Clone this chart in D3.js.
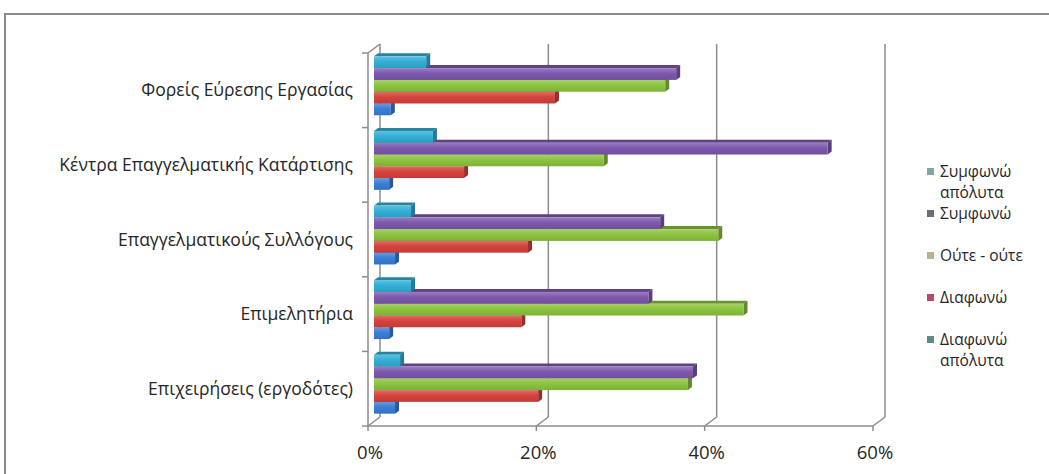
<!DOCTYPE html>
<html>
<head>
<meta charset="utf-8">
<script src="https://cdn.jsdelivr.net/npm/d3@7"></script>
<style>
  html, body { margin: 0; padding: 0; background: #ffffff; }
  svg { display: block; }
  text { font-family: "Open Sans", "Noto Sans", sans-serif; fill: #262626; }
</style>
</head>
<body>
<svg id="chart" width="1049" height="474"></svg>
<script>
// Categories (top to bottom) and series (top bar to bottom bar within each group)
const categories = [
  "Φορείς Εύρεσης Εργασίας",
  "Κέντρα Επαγγελματικής Κατάρτισης",
  "Επαγγελματικούς Συλλόγους",
  "Επιμελητήρια",
  "Επιχειρήσεις (εργοδότες)"
];
const seriesNames = ["Συμφωνώ απόλυτα", "Συμφωνώ", "Ούτε - ούτε", "Διαφωνώ", "Διαφωνώ απόλυτα"];

// Percentages per category, one array per series
const agreeStrongly    = [6.2, 7.0, 4.4, 4.4, 3.1];
const agree            = [35.9, 53.9, 34.0, 32.6, 37.9];
const neutral          = [34.6, 27.3, 40.9, 43.9, 37.3];
const disagree         = [21.5, 10.7, 18.3, 17.5, 19.5];
const disagreeStrongly = [2.0, 1.8, 2.5, 1.8, 2.5];

const xTicks = [0, 20, 40, 60];

const seriesColors = ["#33afd6", "#7d58ae", "#8cc43f", "#d6433d", "#3a7fd6"];
const legendSwatches = ["#7fa6a2", "#6e6e78", "#b4b493", "#b24a6e", "#5d8a84"];

const seriesValues = [agreeStrongly, agree, neutral, disagree, disagreeStrongly];

const svg = d3.select("#chart");

// Chart frame
svg.append("rect")
  .attr("x", 5).attr("y", 14).attr("width", 1100).attr("height", 520)
  .attr("fill", "#ffffff").attr("stroke", "#8a8a8a").attr("stroke-width", 2);

// Plot geometry: front plane and depth offset to the back wall
const plot = { left: 368, right: 873, top: 53, bottom: 426 };
const depth = { dx: 12, dy: -9 };

const x = d3.scaleLinear().domain([0, 60]).range([plot.left, plot.right]);
const y0 = d3.scaleBand().domain(categories).range([plot.top, plot.bottom]);
const bw = y0.bandwidth();
const y1 = d3.scaleBand().domain(seriesNames).range([bw * 0.105, bw * 0.895]);

const gridColor = "#8c8c8c";

// Back wall gridlines
const back = svg.append("g");
back.selectAll("line.grid")
  .data(xTicks)
  .join("line")
  .attr("x1", d => x(d) + depth.dx).attr("x2", d => x(d) + depth.dx)
  .attr("y1", plot.top + depth.dy).attr("y2", plot.bottom + depth.dy)
  .attr("stroke", gridColor).attr("stroke-width", 1.5);

// Floor edges joining front ticks to the back wall
back.selectAll("line.floor")
  .data(xTicks)
  .join("line")
  .attr("x1", d => x(d)).attr("y1", plot.bottom)
  .attr("x2", d => x(d) + depth.dx).attr("y2", plot.bottom + depth.dy)
  .attr("stroke", gridColor).attr("stroke-width", 1.5);

// Top edge of the side wall
back.append("line")
  .attr("x1", plot.left).attr("y1", plot.top)
  .attr("x2", plot.left + depth.dx).attr("y2", plot.top + depth.dy)
  .attr("stroke", gridColor).attr("stroke-width", 1.5);

// Gradients for bar faces
const defs = svg.append("defs");
seriesColors.forEach((c, j) => {
  const g = defs.append("linearGradient")
    .attr("id", "grad" + j).attr("x1", 0).attr("y1", 0).attr("x2", 0).attr("y2", 1);
  g.append("stop").attr("offset", "0%").attr("stop-color", d3.interpolateRgb(c, "#ffffff")(0.22));
  g.append("stop").attr("offset", "45%").attr("stop-color", c);
  g.append("stop").attr("offset", "100%").attr("stop-color", d3.color(c).darker(0.3));
});

// 3D bars, drawn at mid-depth; lower bars first so upper bars cover their top faces
const barShift = { dx: depth.dx / 2, dy: depth.dy / 2 };
const cap = { dx: 4, dy: -3 };
const bars = svg.append("g");

categories.forEach((cat, i) => {
  for (let j = seriesNames.length - 1; j >= 0; j--) {
    const v = seriesValues[j][i];
    const c = seriesColors[j];
    const x0 = x(0) + barShift.dx;
    const x1 = x(v) + barShift.dx;
    const yt = y0(cat) + y1(seriesNames[j]) + barShift.dy;
    const h = y1.bandwidth();
    const g = bars.append("g");
    // top face
    g.append("path")
      .attr("d", `M${x0},${yt}L${x1},${yt}L${x1 + cap.dx},${yt + cap.dy}L${x0 + cap.dx},${yt + cap.dy}Z`)
      .attr("fill", d3.color(c).darker(0.8));
    // end face
    g.append("path")
      .attr("d", `M${x1},${yt}L${x1 + cap.dx},${yt + cap.dy}L${x1 + cap.dx},${yt + h + cap.dy}L${x1},${yt + h}Z`)
      .attr("fill", d3.color(c).darker(1.0));
    // front face
    g.append("rect")
      .attr("x", x0).attr("y", yt)
      .attr("width", x1 - x0).attr("height", h)
      .attr("fill", `url(#grad${j})`);
  }
});

// Front axes
const axes = svg.append("g");
axes.append("line")
  .attr("x1", plot.left).attr("x2", plot.left)
  .attr("y1", plot.top).attr("y2", plot.bottom)
  .attr("stroke", gridColor).attr("stroke-width", 1.5);
axes.append("line")
  .attr("x1", plot.left).attr("x2", plot.right)
  .attr("y1", plot.bottom).attr("y2", plot.bottom)
  .attr("stroke", gridColor).attr("stroke-width", 1.5);

// Category tick marks at band boundaries
const boundaries = categories.map(c => y0(c)).concat([plot.bottom]);
axes.selectAll("line.ytick")
  .data(boundaries)
  .join("line")
  .attr("x1", plot.left - 6).attr("x2", plot.left)
  .attr("y1", d => d).attr("y2", d => d)
  .attr("stroke", gridColor).attr("stroke-width", 1.5);

// Value ticks
axes.selectAll("line.xtick")
  .data(xTicks)
  .join("line")
  .attr("x1", d => x(d)).attr("x2", d => x(d))
  .attr("y1", plot.bottom).attr("y2", plot.bottom + 5)
  .attr("stroke", gridColor).attr("stroke-width", 1.5);

// Value tick labels
svg.append("g").selectAll("text")
  .data(xTicks)
  .join("text")
  .attr("x", d => x(d) + 2)
  .attr("y", 459)
  .attr("text-anchor", "middle")
  .style("font-size", "18.5px")
  .text(d => d + "%");

// Category labels
svg.append("g").selectAll("text")
  .data(categories)
  .join("text")
  .attr("x", 353)
  .attr("y", d => y0(d) + bw / 2)
  .attr("dy", "0.35em")
  .attr("text-anchor", "end")
  .style("font-size", "17.5px")
  .text(d => d);

// Legend
const legendY = d3.scalePoint().domain(seriesNames).range([172, 340]);
const legend = svg.append("g");
const wrapWidth = 92;
seriesNames.forEach((name, j) => {
  const gy = legendY(name);
  legend.append("rect")
    .attr("x", 927).attr("y", gy - 4).attr("width", 7).attr("height", 7)
    .attr("fill", legendSwatches[j]);
  const t = legend.append("text")
    .attr("x", 940).attr("y", gy)
    .style("font-size", "15.5px");
  // wrap long labels onto a second line
  const words = name.split(" ");
  let line = [];
  let tspan = t.append("tspan").attr("x", 940).attr("dy", "0.35em");
  words.forEach(w => {
    line.push(w);
    tspan.text(line.join(" "));
    if (tspan.node().getComputedTextLength() > wrapWidth && line.length > 1) {
      line.pop();
      tspan.text(line.join(" "));
      line = [w];
      tspan = t.append("tspan").attr("x", 940).attr("dy", "1.3em").text(w);
    }
  });
});
</script>
</body>
</html>
